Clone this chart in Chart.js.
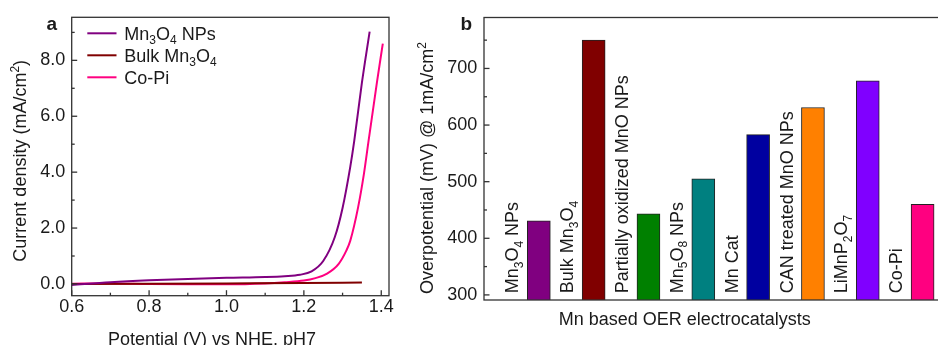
<!DOCTYPE html>
<html>
<head>
<meta charset="utf-8">
<script src="https://cdn.jsdelivr.net/npm/chart.js@4.4.1/dist/chart.umd.min.js"></script>
<style>
  html, body { margin: 0; padding: 0; background: #fff; overflow: hidden; }
  #wrap { position: relative; width: 938px; height: 345px; overflow: hidden; }
  #lsv { position: absolute; left: 0; top: 0; }
  #bars { position: absolute; left: 395px; top: 0; }
</style>
</head>
<body>
<div id="wrap">
  <canvas id="lsv" width="470" height="345"></canvas>
  <canvas id="bars" width="555" height="345"></canvas>
</div>
<script>
// panel a: polarisation curves
const potentialNPs = [0.60, 0.70, 0.80, 0.90, 1.00, 1.10, 1.15, 1.19, 1.22, 1.25, 1.28, 1.30, 1.32, 1.33, 1.35, 1.37];
const currentNPs   = [-0.04, 0.06, 0.13, 0.18, 0.22, 0.25, 0.28, 0.33, 0.45, 0.82, 1.68, 2.72, 4.20, 5.10, 7.20, 9.03];
const potentialBulk = [0.60, 0.80, 1.00, 1.20, 1.35];
const currentBulk   = [0.00, 0.01, 0.02, 0.03, 0.05];
const potentialCoPi = [0.60, 0.70, 0.80, 0.90, 1.00, 1.10, 1.15, 1.20, 1.23, 1.26, 1.29, 1.31, 1.32, 1.34, 1.355, 1.367, 1.389, 1.404];
const currentCoPi   = [0.01, 0.02, 0.00, -0.01, -0.01, 0.02, 0.06, 0.12, 0.21, 0.37, 0.72, 1.20, 1.55, 2.73, 3.92, 5.10, 7.23, 8.60];
const seriesNames = ['Mn₃O₄ NPs', 'Bulk Mn₃O₄', 'Co-Pi'];

const potentialTicks = [0.6, 0.8, 1.0, 1.2, 1.4];
const potentialMinor = [0.7, 0.9, 1.1, 1.3];
const currentTicks = [0, 2, 4, 6, 8];
const currentMinor = [1, 3, 5, 7, 9];

// panel b: overpotential at 1 mA/cm2
const catalysts = ['Mn₃O₄ NPs', 'Bulk Mn₃O₄', 'Partially oxidized MnO NPs', 'Mn₅O₈ NPs', 'Mn Cat', 'CAN treated MnO NPs', 'LiMnP₂O₇', 'Co-Pi'];
const overpotential = [431, 750, 443, 505, 583, 631, 678, 460];
const overTicks = [300, 400, 500, 600, 700];
const overMinor = [350, 450, 550, 650, 750];

const FONT = "'Liberation Sans', Arial, sans-serif";
const INK = '#1a1a1a';
const SUB = '₀₁₂₃₄₅₆₇₈₉';

function toPoints(xs, ys) {
  return xs.map((x, i) => ({ x: x, y: ys[i] }));
}

// split text into normal / subscript / superscript runs
function splitRich(text) {
  const parts = [];
  for (const ch of text) {
    let kind = 'n', c = ch;
    const si = SUB.indexOf(ch);
    if (si >= 0) { kind = 'sub'; c = String(si); }
    else if (ch === '²') { kind = 'sup'; c = '2'; }
    const last = parts[parts.length - 1];
    if (last && last.kind === kind) last.t += c;
    else parts.push({ t: c, kind: kind });
  }
  return parts;
}

function drawRich(ctx, text, x, y, size, align, weight) {
  const parts = splitRich(text);
  const small = Math.round(size * 0.68);
  const fontOf = p => (weight || 'normal') + ' ' + (p.kind === 'n' ? size : small) + 'px ' + FONT;
  let w = 0;
  parts.forEach(p => { ctx.font = fontOf(p); p.w = ctx.measureText(p.t).width; w += p.w; });
  let cx = align === 'center' ? x - w / 2 : x;
  ctx.textAlign = 'left';
  ctx.textBaseline = 'alphabetic';
  ctx.fillStyle = INK;
  parts.forEach(p => {
    ctx.font = fontOf(p);
    const dy = p.kind === 'sub' ? size * 0.25 : (p.kind === 'sup' ? -size * 0.4 : 0);
    ctx.fillText(p.t, cx, y + dy);
    cx += p.w;
  });
}

function innerTicks(ctx, scale, area, values, len) {
  values.forEach(v => {
    const p = scale.getPixelForValue(v);
    ctx.beginPath();
    if (scale.isHorizontal()) {
      ctx.moveTo(p, area.bottom);
      ctx.lineTo(p, area.bottom - len);
    } else {
      ctx.moveTo(area.left, p);
      ctx.lineTo(area.left + len, p);
    }
    ctx.stroke();
  });
}

function frame(ctx, area) {
  ctx.strokeStyle = '#333';
  ctx.lineWidth = 1.3;
  ctx.strokeRect(area.left, area.top, area.right - area.left, area.bottom - area.top);
}

function setTicks(values) {
  return scale => { scale.ticks = values.map(v => ({ value: v })); };
}

const lsvDecor = {
  id: 'lsvDecor',
  afterDraw(chart) {
    const ctx = chart.ctx, area = chart.chartArea;
    const xs = chart.scales.x, ys = chart.scales.y;
    ctx.save();
    frame(ctx, area);
    innerTicks(ctx, xs, area, potentialTicks, 5.5);
    innerTicks(ctx, xs, area, potentialMinor, 3);
    innerTicks(ctx, ys, area, currentTicks, 5.5);
    innerTicks(ctx, ys, area, currentMinor, 3);

    // legend
    chart.data.datasets.forEach((ds, i) => {
      const y = 33.3 + i * 22;
      ctx.strokeStyle = ds.borderColor;
      ctx.lineWidth = 2;
      ctx.beginPath();
      ctx.moveTo(87.3, y);
      ctx.lineTo(116.5, y);
      ctx.stroke();
      drawRich(ctx, ds.label, 124.3, y + 6.5, 18, 'left');
    });

    drawRich(ctx, 'a', 46.5, 30, 19, 'left', 'bold');
    drawRich(ctx, 'Potential (V) vs NHE, pH7', 212, 344.6, 18, 'center');
    ctx.translate(26, 160.8);
    ctx.rotate(-Math.PI / 2);
    drawRich(ctx, 'Current density (mA/cm²)', 0, 0, 18, 'center');
    ctx.restore();
  }
};

const barDecor = {
  id: 'barDecor',
  afterDraw(chart) {
    const ctx = chart.ctx, area = chart.chartArea;
    const xs = chart.scales.x, ys = chart.scales.y;
    ctx.save();
    frame(ctx, area);
    innerTicks(ctx, ys, area, overTicks, 5.5);
    innerTicks(ctx, ys, area, overMinor, 3);

    catalysts.forEach((name, i) => {
      const px = xs.getPixelForValue(i + 0.5);
      ctx.save();
      ctx.translate(px + 7, area.bottom - 6.7);
      ctx.rotate(-Math.PI / 2);
      drawRich(ctx, name, 0, 0, 18, 'left');
      ctx.restore();
    });

    drawRich(ctx, 'b', 460.5 - 395, 30, 19, 'left', 'bold');
    drawRich(ctx, 'Mn based OER electrocatalysts', 684.7 - 395, 324.6, 18, 'center');
    ctx.translate(433 - 395, 168);
    ctx.rotate(-Math.PI / 2);
    drawRich(ctx, 'Overpotential (mV) @ 1mA/cm²', 0, 0, 18, 'center');
    ctx.restore();
  }
};

const tickFont = { family: FONT, size: 18 };

new Chart(document.getElementById('lsv'), {
  type: 'line',
  data: {
    datasets: [
      { label: seriesNames[0], data: toPoints(potentialNPs, currentNPs), borderColor: '#800080' },
      { label: seriesNames[1], data: toPoints(potentialBulk, currentBulk), borderColor: '#800000' },
      { label: seriesNames[2], data: toPoints(potentialCoPi, currentCoPi), borderColor: '#ff0080' }
    ]
  },
  options: {
    responsive: false,
    animation: false,
    layout: { padding: { top: 15.7, right: 81, left: 0, bottom: 0 } },
    elements: {
      point: { radius: 0 },
      line: { borderWidth: 2, cubicInterpolationMode: 'monotone', fill: false }
    },
    plugins: { legend: { display: false }, tooltip: { enabled: false } },
    scales: {
      x: {
        type: 'linear', min: 0.6, max: 1.42,
        afterFit: s => { s.height = 49.3; },
        afterBuildTicks: setTicks(potentialTicks),
        grid: { display: false, drawTicks: false },
        border: { display: false },
        ticks: { padding: 1, color: INK, font: tickFont, maxRotation: 0, autoSkip: false,
                 callback: v => v.toFixed(1) }
      },
      y: {
        type: 'linear', min: -0.42, max: 9.54,
        afterFit: s => { s.width = 71.7; },
        afterBuildTicks: setTicks(currentTicks),
        grid: { display: false, drawTicks: false },
        border: { display: false },
        ticks: { padding: 6.5, color: INK, font: tickFont, callback: v => v.toFixed(1) }
      }
    }
  },
  plugins: [lsvDecor]
});

new Chart(document.getElementById('bars'), {
  type: 'bar',
  data: {
    datasets: [{
      data: catalysts.map((c, i) => ({ x: i + 1, y: overpotential[i] })),
      backgroundColor: ['#800080', '#800000', '#008000', '#008080', '#0000a0', '#ff8000', '#8000ff', '#ff0080'],
      borderColor: '#222',
      borderWidth: 1,
      borderSkipped: false,
      barThickness: 23
    }]
  },
  options: {
    responsive: false,
    animation: false,
    layout: { padding: { top: 15.3, right: 0, left: 0, bottom: 0 } },
    plugins: { legend: { display: false }, tooltip: { enabled: false } },
    scales: {
      x: {
        type: 'linear', min: 0, max: 8.5, offset: false,
        afterFit: s => { s.height = 45; },
        grid: { display: false, drawTicks: false },
        border: { display: false },
        ticks: { display: false }
      },
      y: {
        type: 'linear', min: 291, max: 790,
        afterFit: s => { s.width = 89; },
        afterBuildTicks: setTicks(overTicks),
        grid: { display: false, drawTicks: false },
        border: { display: false },
        ticks: { padding: 6.7, color: INK, font: tickFont }
      }
    }
  },
  plugins: [barDecor]
});
</script>
</body>
</html>
